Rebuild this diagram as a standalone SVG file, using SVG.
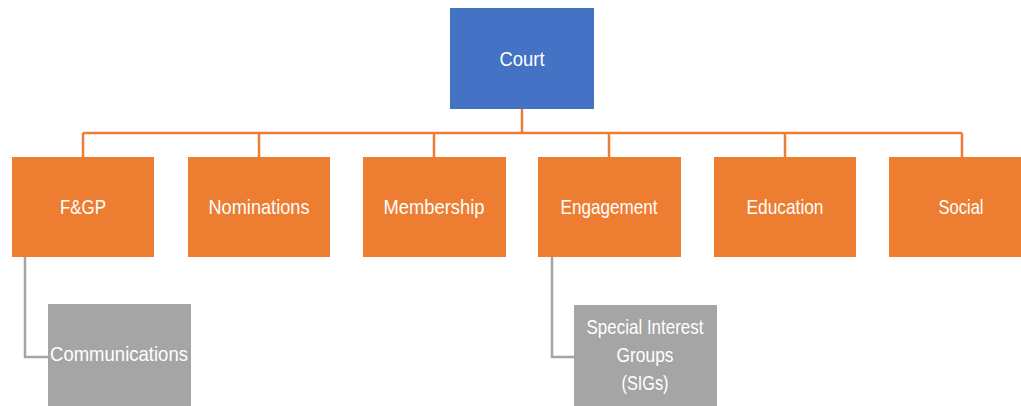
<svg xmlns="http://www.w3.org/2000/svg" width="1021" height="406" viewBox="0 0 1021 406">
<style>
.t{font-family:"Liberation Sans",Arial,sans-serif;font-size:21px;fill:#ffffff;text-anchor:middle}
.o{fill:#ED7D31}
.g{fill:#A5A5A5}
.oc{stroke:#ED7D31;stroke-width:2.5;fill:none}
.gc{stroke:#A5A5A5;stroke-width:2.5;fill:none}
</style>
<rect width="1021" height="406" fill="#ffffff"/>
<g id="connectors">
<path class="oc" d="M522,109V133M83,133H962M83,133V157M259,133V157M434,133V157M609,133V157M785,133V157M962,133V157"/>
<path class="gc" d="M25,257V357H48M552,257V357H574"/>
</g>
<g id="court"><rect x="450" y="8" width="144" height="101" fill="#4472C4"/><text class="t" x="522" y="66" textLength="45" lengthAdjust="spacingAndGlyphs">Court</text></g>
<g id="fgp"><rect class="o" x="12" y="157" width="142" height="100"/><text class="t" x="83" y="214" textLength="46" lengthAdjust="spacingAndGlyphs">F&amp;GP</text></g>
<g id="nominations"><rect class="o" x="188" y="157" width="142" height="100"/><text class="t" x="259" y="214" textLength="101" lengthAdjust="spacingAndGlyphs">Nominations</text></g>
<g id="membership"><rect class="o" x="363" y="157" width="143" height="100"/><text class="t" x="434" y="214" textLength="101" lengthAdjust="spacingAndGlyphs">Membership</text></g>
<g id="engagement"><rect class="o" x="538" y="157" width="143" height="100"/><text class="t" x="609" y="214" textLength="97" lengthAdjust="spacingAndGlyphs">Engagement</text></g>
<g id="education"><rect class="o" x="714" y="157" width="142" height="100"/><text class="t" x="785" y="214" textLength="77" lengthAdjust="spacingAndGlyphs">Education</text></g>
<g id="social"><rect class="o" x="889" y="157" width="143" height="100"/><text class="t" x="961" y="214" textLength="45" lengthAdjust="spacingAndGlyphs">Social</text></g>
<g id="communications"><rect class="g" x="48" y="304" width="143" height="110"/><text class="t" x="119" y="361" textLength="138" lengthAdjust="spacingAndGlyphs">Communications</text></g>
<g id="sigs"><rect class="g" x="574" y="305" width="143" height="110"/>
<text class="t" x="645" y="334" textLength="117" lengthAdjust="spacingAndGlyphs">Special Interest</text>
<text class="t" x="645" y="362" textLength="57" lengthAdjust="spacingAndGlyphs">Groups</text>
<text class="t" x="645" y="390" textLength="47" lengthAdjust="spacingAndGlyphs">(SIGs)</text></g>
</svg>
